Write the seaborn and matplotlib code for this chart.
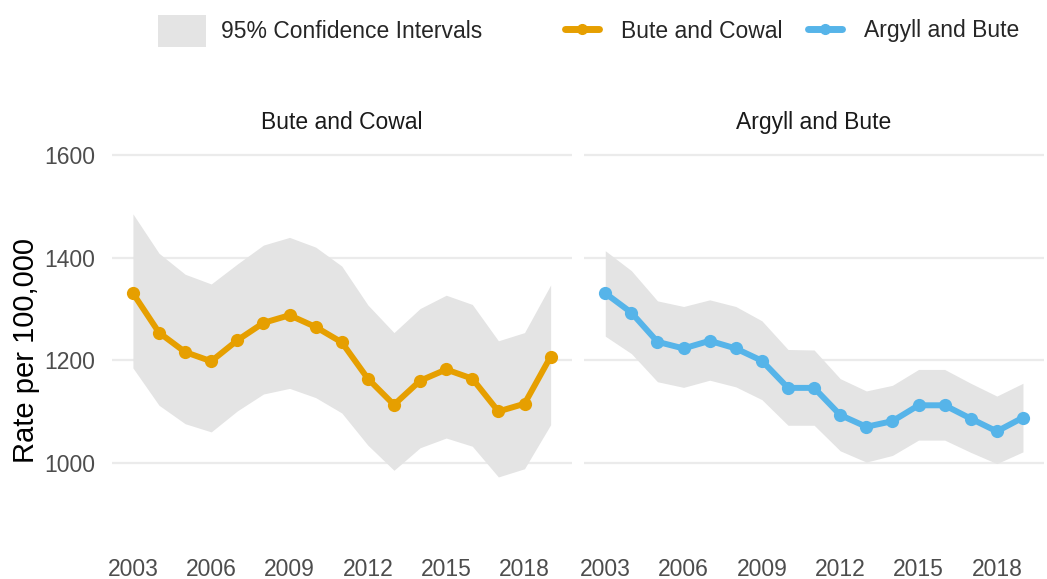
import numpy as np
import pandas as pd
import matplotlib.pyplot as plt
import seaborn as sns
from matplotlib.patches import Patch, Rectangle
from matplotlib.lines import Line2D
from matplotlib.legend_handler import HandlerPatch

sns.set_theme(style="whitegrid")
plt.rcParams['font.family'] = ['Liberation Sans', 'DejaVu Sans']

years = list(range(2003, 2020))

# Bute and Cowal
bc_rate = [1331, 1254, 1216, 1198, 1239, 1273, 1288, 1265, 1235, 1164, 1113, 1160, 1182, 1164, 1100, 1115, 1207]
bc_upper = [1486, 1409, 1368, 1349, 1388, 1425, 1440, 1421, 1384, 1308, 1254, 1301, 1327, 1309, 1238, 1254, 1347]
bc_lower = [1185, 1112, 1076, 1060, 1101, 1134, 1145, 1127, 1097, 1034, 985, 1029, 1048, 1032, 972, 988, 1074]

# Argyll and Bute
ab_rate = [1331, 1293, 1236, 1223, 1238, 1223, 1199, 1146, 1146, 1093, 1070, 1081, 1112, 1112, 1086, 1061, 1088]
ab_upper = [1414, 1375, 1316, 1305, 1318, 1305, 1277, 1221, 1220, 1164, 1140, 1151, 1182, 1182, 1155, 1130, 1155]
ab_lower = [1247, 1213, 1158, 1147, 1161, 1148, 1123, 1073, 1073, 1023, 1001, 1014, 1044, 1044, 1020, 998, 1021]

areas = ["Bute and Cowal", "Argyll and Bute"]
colours = ["#E69F00", "#56B4E9"]
ci_colour = "#E4E4E4"
fs = 16.5

df = pd.concat([
    pd.DataFrame({"area": areas[0], "year": years, "rate": bc_rate, "upper": bc_upper, "lower": bc_lower}),
    pd.DataFrame({"area": areas[1], "year": years, "rate": ab_rate, "upper": ab_upper, "lower": ab_lower}),
])

fig, axes = plt.subplots(1, 2, figsize=(10.47, 5.79), dpi=100, sharey=True)
fig.subplots_adjust(left=0.107, right=0.997, top=0.75, bottom=0.041, wspace=0.028)

for ax, area, col in zip(axes, areas, colours):
    d = df[df["area"] == area]
    ax.fill_between(d["year"], d["lower"], d["upper"], color=ci_colour, linewidth=0, zorder=1)
    sns.lineplot(data=d, x="year", y="rate", ax=ax, color=col, linewidth=4.3,
                 marker="o", markersize=9.5, markeredgewidth=0, zorder=3)
    ax.set_xlim(2002.2, 2019.8)
    ax.set_ylim(819, 1621)
    ax.set_xticks([2003, 2006, 2009, 2012, 2015, 2018])
    ax.set_yticks([1000, 1200, 1400, 1600])
    ax.grid(axis="x", visible=False)
    ax.grid(axis="y", color="#EBEBEB", linewidth=1.6)
    for s in ax.spines.values():
        s.set_visible(False)
    ax.set_xlabel("")
    ax.set_ylabel("")
    ax.tick_params(axis="both", length=0, labelsize=fs, labelcolor="#4D4D4D")
    ax.tick_params(axis="y", pad=12)
    ax.tick_params(axis="x", pad=2)
    ax.set_title(area, fontsize=fs, color="#1A1A1A", pad=11)

axes[0].set_ylabel("Rate per 100,000", fontsize=21, color="black", labelpad=3)


def wide_patch(legend, orig_handle, xdescent, ydescent, width, height, fontsize):
    return Rectangle((-xdescent - 5, -ydescent), width + 10, height)


leg1 = fig.legend([Patch(facecolor=ci_colour, edgecolor="none")], ["95% Confidence Intervals"],
                  loc="center left", bbox_to_anchor=(165 / 1047, 1 - 31 / 579), frameon=False,
                  fontsize=fs, handlelength=1.5, handleheight=1.8, handletextpad=0.95,
                  borderpad=0, borderaxespad=0,
                  handler_map={Patch: HandlerPatch(patch_func=wide_patch)})

line_handles = [Line2D([], [], color=c, linewidth=5, marker="o", markersize=7) for c in colours]
leg2 = fig.legend(line_handles, areas, loc="center left", bbox_to_anchor=(565 / 1047, 1 - 31 / 579),
                  ncol=2, frameon=False, fontsize=fs, handlelength=1.5, handletextpad=0.95,
                  columnspacing=1.1, borderpad=0, borderaxespad=0)

fig.savefig("out.png", dpi=100)
